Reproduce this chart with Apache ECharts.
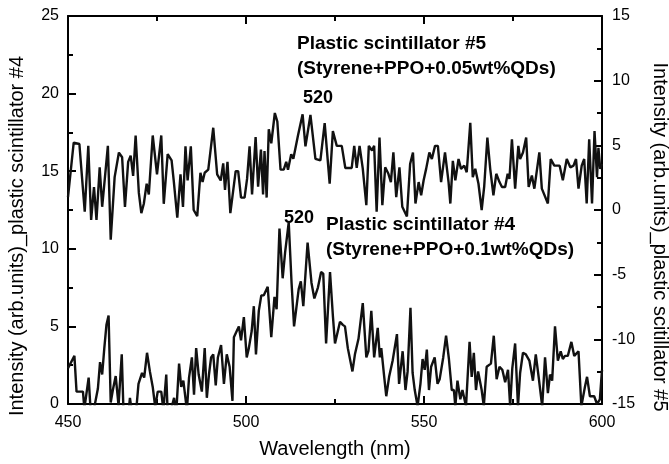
<!DOCTYPE html>
<html><head><meta charset="utf-8">
<script src="https://cdn.jsdelivr.net/npm/echarts@6/dist/echarts.min.js"></script>
<style>html,body{margin:0;padding:0;background:#fff}#c{width:669px;height:464px}</style>
</head><body><div id="c"></div>
<script>
// Plastic scintillator #4 (left axis): [wavelength nm, intensity]
const wl4 = [450.0,451.8,452.4,454.2,454.6,455.8,456.4,457.4,458.4,459.0,459.6,460.2,460.8,461.4,462.0,462.6,463.4,464.2,465.1,465.6,466.8,467.4,468.0,469.2,469.8,470.8,471.4,472.2,473.0,473.8,474.5,475.2,476.2,476.8,477.6,478.0,479.0,479.8,480.4,481.2,481.8,482.4,483.4,484.0,484.8,485.4,486.0,486.7,487.6,488.4,489.0,489.6,490.2,490.8,491.5,492.1,493.0,493.8,494.6,495.4,496.2,496.6,497.4,498.0,498.6,499.4,500.2,500.8,501.6,502.2,502.8,503.6,504.3,505.0,506.1,506.6,507.1,508.0,508.6,509.4,510.3,511.0,512.0,512.8,513.5,514.8,515.4,516.1,517.3,518.4,519.2,520.2,521.1,521.7,522.5,523.6,524.4,525.0,526.4,527.2,527.8,528.6,529.9,530.6,531.6,532.8,533.8,534.4,535.2,536.0,537.0,537.6,538.0,538.8,539.4,540.2,541.2,542.4,543.0,544.0,544.8,545.4,546.2,546.8,547.4,548.2,549.0,549.6,550.2,550.8,551.4,552.0,553.0,553.8,554.4,555.4,556.2,557.0,557.8,558.4,558.8,559.4,560.2,560.8,561.8,562.8,563.4,564.0,564.6,565.2,566.2,566.8,567.6,568.8,569.6,570.4,571.2,572.0,572.8,573.6,574.2,574.8,575.6,576.4,577.0,577.8,578.6,579.6,580.6,581.4,582.2,583.2,584.0,584.8,585.4,586.0,586.8,587.6,588.4,589.0,589.6,590.4,591.4,592.2,593.4,594.2,595.2,595.8,596.6,597.8,598.6,599.4,600.0];
const int4 = [2.3,3.1,0.8,0.8,-0.3,1.7,-0.6,-0.2,1.0,2.7,1.9,3.6,5.1,5.7,0.1,0.9,1.8,-0.1,3.2,-0.6,-1.0,0.4,-0.6,-0.3,1.3,2.0,1.7,3.3,2.1,1.1,-0.2,0.8,0.8,-0.4,1.9,-0.6,-0.3,0.4,-0.6,2.6,1.1,1.5,-0.4,1.7,3.0,0.6,3.6,1.9,0.8,3.6,0.4,1.9,3.0,3.2,1.2,3.0,3.8,1.3,3.2,2.4,0.2,4.3,4.7,5.0,4.1,5.6,3.0,3.6,4.7,6.3,3.2,6.0,7.0,7.0,7.55,7.5,4.3,6.9,6.1,11.3,8.1,9.8,11.7,7.8,5.0,7.4,7.9,6.3,10.4,7.8,6.8,7.5,8.5,8.4,3.9,8.5,5.7,3.9,5.3,5.1,5.0,3.6,2.1,3.2,4.2,6.5,3.0,3.4,6.0,3.0,4.9,3.0,3.6,1.8,0.5,1.75,2.8,4.5,1.3,3.4,0.9,2.1,6.2,2.0,0.9,-0.15,1.3,2.9,2.2,3.5,0.9,2.4,3.0,1.3,1.6,3.0,4.4,2.9,0.9,0.9,-0.15,1.5,0.3,0.9,-0.15,4.0,1.75,3.3,0.9,2.1,0.9,-0.15,2.4,2.6,4.4,1.6,2.4,2.2,1.4,2.2,-0.15,2.3,3.9,-0.15,2.0,3.3,3.2,2.8,1.5,3.2,1.75,-0.15,3.0,0.7,1.9,1.5,5.0,2.8,3.4,2.9,3.1,3.1,4.0,3.1,3.4,-0.15,1.1,1.75,0.5,0.5,0.0,0.3,2.2];

// Plastic scintillator #5 (right axis): [wavelength nm, intensity]
const wl5 = [450.0,451.6,453.2,454.7,455.7,456.5,457.3,458.0,458.9,459.6,461.2,462.0,463.1,464.3,465.2,466.0,466.9,467.6,468.3,469.0,469.9,470.6,471.3,472.1,472.7,473.8,475.0,476.2,476.9,478.0,479.1,479.7,480.7,481.6,482.3,483.0,483.6,484.5,485.3,486.3,487.2,487.8,488.4,489.4,490.8,491.9,492.9,493.6,494.1,494.8,495.6,497.1,497.8,498.6,499.6,500.3,501.0,501.7,502.7,503.4,504.2,504.8,505.2,505.8,506.4,507.1,508.1,508.8,509.7,510.6,511.3,511.8,512.7,513.3,514.6,515.9,516.7,518.1,519.5,520.9,522.1,523.5,524.4,525.5,526.9,527.9,529.7,530.4,531.1,531.9,532.8,533.8,534.5,535.4,536.0,536.7,537.5,538.3,539.1,540.0,540.7,541.4,542.2,543.1,543.9,545.2,546.1,546.9,547.6,548.5,549.2,549.9,550.6,551.5,552.2,553.1,553.9,554.8,555.9,556.9,557.4,558.1,558.8,559.7,560.4,561.3,562.0,563.0,563.7,564.4,565.3,566.2,566.9,567.8,568.6,569.5,570.3,571.2,571.9,572.8,573.5,574.0,574.7,575.6,576.5,577.0,577.8,578.7,579.4,580.3,581.0,582.4,583.1,584.8,585.6,586.6,588.1,589.0,590.1,591.1,592.0,592.7,593.4,594.3,595.0,595.7,596.4,597.2,597.9,598.6,599.0,599.5,600.0];
const int5 = [1.0,5.2,5.1,-0.13,4.96,-0.77,1.78,-0.77,3.3,0.25,4.96,-2.3,2.54,4.44,4.08,0.24,3.72,4.2,2.64,5.76,1.32,-0.24,0.48,2.04,1.2,5.76,2.76,5.76,0.48,4.32,3.84,2.28,-0.6,2.76,0.24,4.92,2.28,4.92,0.0,-0.48,2.88,2.16,2.88,3.12,6.36,2.76,2.28,3.6,1.56,3.72,-0.24,3.0,3.0,0.96,0.96,2.4,4.92,1.2,5.64,1.8,4.68,1.2,4.56,0.96,6.24,5.16,7.5,6.84,3.12,3.12,3.72,3.12,4.32,3.96,5.76,7.4,4.92,7.35,3.96,3.84,6.72,2.04,6.1,4.96,4.96,3.25,3.25,4.96,3.25,4.96,3.2,0.38,4.96,4.6,4.96,-0.13,5.6,0.38,3.3,2.8,2.16,4.45,1.0,3.3,0.25,-0.5,3.56,4.45,0.5,2.16,1.14,2.3,3.18,4.45,3.94,4.96,4.96,2.16,4.45,2.16,0.5,3.8,2.3,3.94,3.18,3.43,2.92,6.74,2.54,3.18,2.03,0.0,1.78,5.6,3.18,1.14,2.8,2.16,1.78,1.78,2.8,2.4,5.47,1.65,4.96,3.94,4.45,5.6,1.78,2.67,1.65,4.45,1.65,0.5,3.94,3.43,3.43,2.3,3.94,3.3,3.43,3.94,1.65,3.43,3.94,0.5,5.47,0.5,6.1,2.54,4.8,3.18,3.56];

const xTicks = {min: 450, max: 600, step: 50};
const yLeft = {min: 0, max: 25, step: 5};
const yRight = {min: -15, max: 15, step: 5};

const chart = echarts.init(document.getElementById('c'), null, {renderer: 'canvas'});
const FONT = 'Arial, "Liberation Sans", sans-serif';
const axisLine = {show: true, onZero: false, lineStyle: {color: '#000', width: 2}};
const tick = {show: true, inside: true, length: 8, lineStyle: {color: '#000', width: 2}};
const minor = {show: true, splitNumber: 2, length: 5, lineStyle: {color: '#000', width: 2}};
const lbl = {color: '#000', fontSize: 16, fontFamily: FONT};
const bold = 'bold 19px ' + FONT;
const titleFont = '20px ' + FONT;

chart.setOption({
  animation: false,
  backgroundColor: '#fff',
  grid: {left: 68, right: 67, top: 16, bottom: 53, show: false},
  xAxis: [
    {type: 'value', position: 'bottom', min: xTicks.min, max: xTicks.max, interval: xTicks.step,
     axisLine, axisTick: tick, minorTick: minor, splitLine: {show: false},
     axisLabel: Object.assign({margin: 11}, lbl),
     name: 'Wavelength (nm)', nameLocation: 'middle', nameGap: 35,
     nameTextStyle: {color: '#000', fontSize: 20, fontFamily: FONT}},
    {type: 'value', position: 'top', min: xTicks.min, max: xTicks.max, interval: xTicks.step,
     axisLine, axisTick: tick, minorTick: minor, splitLine: {show: false}, axisLabel: {show: false}}
  ],
  yAxis: [
    {type: 'value', position: 'left', min: yLeft.min, max: yLeft.max, interval: yLeft.step,
     axisLine, axisTick: tick, minorTick: minor, splitLine: {show: false},
     axisLabel: Object.assign({margin: 9}, lbl)},
    {type: 'value', position: 'right', min: yRight.min, max: yRight.max, interval: yRight.step,
     axisLine, axisTick: tick, minorTick: minor, splitLine: {show: false},
     axisLabel: Object.assign({margin: 10}, lbl)}
  ],
  series: [
    {type: 'line', xAxisIndex: 0, yAxisIndex: 0, showSymbol: false, clip: true,
     lineStyle: {color: '#111', width: 2.4}, data: wl4.map((w, i) => [w, int4[i]])},
    {type: 'line', xAxisIndex: 0, yAxisIndex: 1, showSymbol: false, clip: true,
     lineStyle: {color: '#111', width: 2.4}, data: wl5.map((w, i) => [w, int5[i]])}
  ],
  graphic: [
    {type: 'text', x: 17, y: 236, rotation: Math.PI / 2,
     style: {text: 'Intensity (arb.units)_plastic scintillator #4', font: titleFont, fill: '#000', align: 'center', verticalAlign: 'middle'}},
    {type: 'text', x: 660, y: 237, rotation: -Math.PI / 2,
     style: {text: 'Intensity (arb.units)_plastic scitillator #5', font: titleFont, fill: '#000', align: 'center', verticalAlign: 'middle'}},
    {type: 'text', x: 297, y: 44, style: {text: 'Plastic scintillator #5', font: bold, fill: '#000', verticalAlign: 'middle'}},
    {type: 'text', x: 297, y: 69, style: {text: '(Styrene+PPO+0.05wt%QDs)', font: bold, fill: '#000', verticalAlign: 'middle'}},
    {type: 'text', x: 318, y: 98, style: {text: '520', font: 'bold 18px ' + FONT, fill: '#000', align: 'center', verticalAlign: 'middle'}},
    {type: 'text', x: 326, y: 225, style: {text: 'Plastic scintillator #4', font: bold, fill: '#000', verticalAlign: 'middle'}},
    {type: 'text', x: 326, y: 250, style: {text: '(Styrene+PPO+0.1wt%QDs)', font: bold, fill: '#000', verticalAlign: 'middle'}},
    {type: 'text', x: 299, y: 218, style: {text: '520', font: 'bold 18px ' + FONT, fill: '#000', align: 'center', verticalAlign: 'middle'}}
  ]
});
</script></body></html>
